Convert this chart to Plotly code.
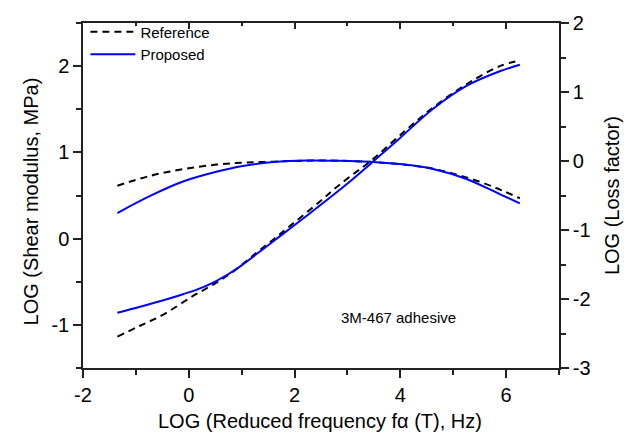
import plotly.graph_objects as go

# ---- data ----
# Shear modulus (left axis, LOG MPa)
mod_ref_x = [-1.35, -0.92, -0.49, 0.08, 0.46, 0.8, 1.28, 1.6, 1.88, 2.48, 2.76, 3.05, 3.46, 4.09, 4.62, 5.25, 5.88, 6.26]
mod_ref_y = [-1.137, -1.01, -0.884, -0.665, -0.533, -0.40, -0.165, -0.01, 0.13, 0.43, 0.58, 0.72, 0.91, 1.25, 1.52, 1.79, 2.0, 2.065]
mod_pro_x = [-1.35, -0.92, -0.4, -0.11, 0.2, 0.46, 0.75, 1.0, 1.3, 1.6, 2.23, 2.96, 3.46, 3.99, 4.62, 5.25, 5.88, 6.26]
mod_pro_y = [-0.86, -0.79, -0.70, -0.645, -0.58, -0.51, -0.41, -0.31, -0.17, -0.03, 0.265, 0.618, 0.88, 1.165, 1.505, 1.77, 1.94, 2.015]

# Loss factor (right axis, LOG)
loss_ref_x = [-1.35, -0.74, -0.11, 0.52, 1.02, 1.6, 2.23, 2.86, 3.49, 3.99, 4.3, 4.62, 5.1, 5.32, 5.54, 5.76, 5.95, 6.26]
loss_ref_y = [-0.359, -0.217, -0.119, -0.052, -0.024, -0.01, 0.005, 0.004, -0.015, -0.045, -0.072, -0.112, -0.205, -0.255, -0.31, -0.375, -0.435, -0.54]
loss_pro_x = [-1.35, -0.74, -0.11, 0.52, 1.02, 1.6, 2.23, 2.86, 3.49, 3.99, 4.3, 4.62, 5.25, 5.88, 6.26]
loss_pro_y = [-0.754, -0.51, -0.298, -0.157, -0.072, -0.015, 0.008, 0.004, -0.015, -0.045, -0.072, -0.115, -0.26, -0.48, -0.613]

x_ticks = [-2, 0, 2, 4, 6]
x_tick_text = ["-2", "0", "2", "4", "6"]
yl_ticks = [-1, 0, 1, 2]
yl_tick_text = ["-1", "0", "1", "2"]
yr_ticks = [-3, -2, -1, 0, 1, 2]
yr_tick_text = ["-3", "-2", "-1", "0", "1", "2"]

FONT = "Liberation Sans, Arial, sans-serif"
AX = "#222222"

fig = go.Figure()
fig.add_trace(go.Scatter(x=mod_ref_x, y=mod_ref_y, mode="lines", name="Reference",
                         line=dict(color="black", width=2, dash="7px,5px", shape="spline")))
fig.add_trace(go.Scatter(x=mod_pro_x, y=mod_pro_y, mode="lines", name="Proposed",
                         line=dict(color="#0000ff", width=2, shape="spline")))
fig.add_trace(go.Scatter(x=loss_ref_x, y=loss_ref_y, mode="lines", yaxis="y2", showlegend=False,
                         line=dict(color="black", width=2, dash="7px,5px", shape="spline")))
fig.add_trace(go.Scatter(x=loss_pro_x, y=loss_pro_y, mode="lines", yaxis="y2", showlegend=False,
                         line=dict(color="#0000ff", width=2, shape="spline")))
# empty trace so the top mirror axis is drawn
fig.add_trace(go.Scatter(x=[None], y=[None], xaxis="x2", showlegend=False, hoverinfo="skip"))

fig.update_layout(
    width=624, height=435,
    margin=dict(l=83, r=65, t=14, b=67),
    paper_bgcolor="white", plot_bgcolor="white",
    font=dict(family=FONT, size=20, color="black"),
    showlegend=True,
    legend=dict(x=0.005, y=1.022, xanchor="left", yanchor="top",
                bgcolor="rgba(0,0,0,0)", font=dict(size=15, family=FONT),
                itemwidth=45, tracegroupgap=0),
    xaxis=dict(range=[-2, 7], showgrid=False, zeroline=False,
               showline=True, linecolor=AX, linewidth=1.5,
               ticks="outside", ticklen=8, tickwidth=1.5, tickcolor=AX,
               tickmode="array", tickvals=x_ticks, ticktext=x_tick_text,
               minor=dict(dtick=1, tick0=-1, ticks="outside", ticklen=5, tickwidth=1.5, tickcolor=AX, showgrid=False),
               tickfont=dict(size=20)),
    xaxis2=dict(range=[-2, 7], overlaying="x", side="top", anchor="y",
                showgrid=False, zeroline=False, showticklabels=False,
                showline=True, linecolor=AX, linewidth=1.5,
                ticks="inside", ticklen=6, tickwidth=1.5, tickcolor=AX,
                tickmode="array", tickvals=x_ticks,
                minor=dict(dtick=1, tick0=-1, ticks="inside", ticklen=3, tickwidth=1.5, tickcolor=AX, showgrid=False)),
    yaxis=dict(range=[-1.5, 2.5], showgrid=False, zeroline=False,
               showline=True, linecolor=AX, linewidth=1.5,
               ticks="outside", ticklen=8, tickwidth=1.5, tickcolor=AX,
               tickmode="array", tickvals=yl_ticks, ticktext=yl_tick_text,
               minor=dict(dtick=0.5, tick0=0, ticks="outside", ticklen=5, tickwidth=1.5, tickcolor=AX, showgrid=False),
               tickfont=dict(size=20)),
    yaxis2=dict(range=[-3, 2], overlaying="y", side="right", anchor="x",
                showgrid=False, zeroline=False,
                showline=True, linecolor=AX, linewidth=1.5,
                ticks="outside", ticklen=8, tickwidth=1.5, tickcolor=AX,
                tickmode="array", tickvals=yr_ticks, ticktext=yr_tick_text,
                minor=dict(dtick=0.5, tick0=0, ticks="outside", ticklen=5, tickwidth=1.5, tickcolor=AX, showgrid=False),
                tickfont=dict(size=20)),
    annotations=[
        dict(text="LOG (Reduced frequency f\u03b1 (T), Hz)", xref="paper", yref="paper",
             x=0.497, y=-0.1525, xanchor="center", yanchor="middle", showarrow=False,
             font=dict(size=20, family=FONT)),
        dict(text="LOG (Shear modulus, MPa)", xref="paper", yref="paper",
             x=-0.109, y=0.483, xanchor="center", yanchor="middle", showarrow=False,
             textangle=-90, font=dict(size=20, family=FONT)),
        dict(text="LOG (Loss factor)", xref="paper", yref="paper",
             x=1.1105, y=0.5, xanchor="center", yanchor="middle", showarrow=False,
             textangle=-90, font=dict(size=20, family=FONT)),
        dict(text="3M-467 adhesive", xref="x", yref="y", x=3.97, y=-0.91,
             xanchor="center", yanchor="middle", showarrow=False,
             font=dict(size=15, family=FONT)),
    ],
)

fig.write_html("out.html")
